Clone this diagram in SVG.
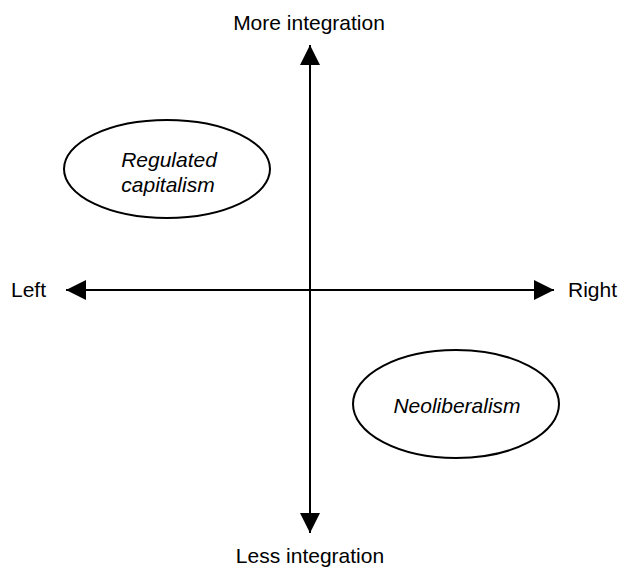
<svg xmlns="http://www.w3.org/2000/svg" width="621" height="570" viewBox="0 0 621 570">
<style>
text{font-family:"Liberation Sans",Arial,sans-serif;font-size:21px;fill:#000}
.i{font-style:italic;text-anchor:middle}
.ax{stroke:#000;stroke-width:2;fill:none}
.el{stroke:#000;stroke-width:2;fill:#fff}
</style>
<defs>
<marker id="ah" viewBox="0 0 20 20" refX="20" refY="10" markerWidth="20" markerHeight="20" markerUnits="userSpaceOnUse" orient="auto"><path d="M0,0 L20,10 L0,20 Z" fill="#000"/></marker>
</defs>
<g id="connectors">
<line class="ax" x1="310" y1="290" x2="310" y2="45" marker-end="url(#ah)"/>
<line class="ax" x1="310" y1="290" x2="310" y2="533" marker-end="url(#ah)"/>
<line class="ax" x1="310" y1="290" x2="66" y2="290" marker-end="url(#ah)"/>
<line class="ax" x1="310" y1="290" x2="554" y2="290" marker-end="url(#ah)"/>
</g>
<g id="more"><text x="309" y="30" text-anchor="middle">More integration</text></g>
<g id="less"><text x="310" y="563" text-anchor="middle">Less integration</text></g>
<g id="left"><text x="11" y="297">Left</text></g>
<g id="right"><text x="568" y="297">Right</text></g>
<g id="regulated">
<ellipse class="el" cx="167" cy="169" rx="103" ry="49"/>
<text class="i" x="169" y="167">Regulated</text>
<text class="i" x="168" y="192">capitalism</text>
</g>
<g id="neoliberalism">
<ellipse class="el" cx="456" cy="404" rx="103" ry="54"/>
<text class="i" x="457" y="413">Neoliberalism</text>
</g>
</svg>
